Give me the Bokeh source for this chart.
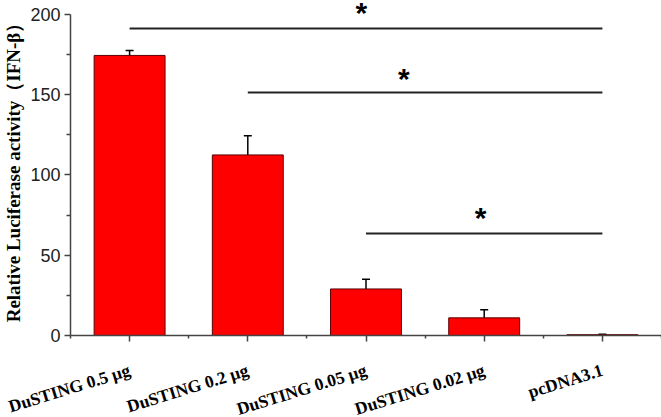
from bokeh.plotting import figure
from bokeh.models import (ColumnDataSource, FixedTicker, Whisker, Range1d)
from bokeh.core.properties import value
from bokeh.embed import file_html
from bokeh.resources import INLINE

categories = ["DuSTING 0.5 μg", "DuSTING 0.2 μg", "DuSTING 0.05 μg", "DuSTING 0.02 μg", "pcDNA3.1"]
values = [174.5, 112.5, 29.0, 11.0, 0.5]
errors = [3.0, 12.0, 6.0, 5.0, 0.3]

sig_start = [1, 2, 3]
sig_end = [5, 5, 5]
sig_y = [191.3, 151.4, 63.6]
star_x = [2.96, 3.32, 3.97]
star_y = [201.0, 160.4, 73.8]

xs = list(range(1, len(categories) + 1))

p = figure(frame_width=591, frame_height=335, output_backend="svg", toolbar_location=None,
           x_range=Range1d(0.5, 5.5), y_range=Range1d(0, 208.72),
           min_border_left=60, min_border_top=0, min_border_bottom=60, min_border_right=0)
p.outline_line_color = None
p.grid.visible = False
p.background_fill_color = "white"
p.border_fill_color = "white"

src = ColumnDataSource(dict(x=xs, top=values,
                            upper=[v + e for v, e in zip(values, errors)],
                            lower=[v - e for v, e in zip(values, errors)]))
p.vbar(x="x", top="top", width=0.6, bottom=0, source=src,
       fill_color="#ff0000", line_color="#5a0000", line_width=1)

w = Whisker(base="x", upper="upper", lower="lower", source=src,
            line_color="black", line_width=1.5)
w.upper_head.size = 8
w.lower_head.size = 8
w.upper_head.line_width = 1.5
w.lower_head.line_width = 1.5
p.add_layout(w)

p.segment(x0=sig_start, x1=sig_end, y0=sig_y, y1=sig_y, line_color="#222222", line_width=2)

p.text(x=star_x, y=star_y, text=["*"] * len(star_x), text_font=value("Liberation Sans"),
       text_font_style="bold", text_font_size="30px",
       text_align="center", text_baseline="middle", text_color="black")

# x axis
xa = p.xaxis[0]
xa.ticker = FixedTicker(ticks=xs, minor_ticks=[0.5, 1.5, 2.5, 3.5, 4.5, 5.5])
xa.major_label_overrides = {i: c for i, c in zip(xs, categories)}
xa.major_label_orientation = 0.3
xa.major_label_text_font = "Liberation Serif"
xa.major_label_text_font_style = "bold"
xa.major_label_text_font_size = "17.5px"
xa.major_label_text_color = "black"
xa.major_label_standoff = 28
xa.axis_line_color = "#444444"
xa.axis_line_width = 1.5
xa.major_tick_line_color = "#444444"
xa.minor_tick_line_color = "#444444"
xa.major_tick_out = 6
xa.major_tick_in = 0
xa.minor_tick_out = 3
xa.minor_tick_in = 0
xa.major_tick_line_width = 1.5
xa.minor_tick_line_width = 1.5

# y axis
ya = p.yaxis[0]
ya.bounds = (0, 200)
ya.ticker = FixedTicker(ticks=[0, 50, 100, 150, 200], minor_ticks=[25, 75, 125, 175])
ya.axis_label = "Relative Luciferase activity（IFN-β）"
ya.axis_label_text_font = "Liberation Serif"
ya.axis_label_text_font_style = "bold"
ya.axis_label_text_font_size = "19px"
ya.axis_label_text_color = "black"
ya.axis_label_standoff = 3
ya.major_label_text_font = "Liberation Sans"
ya.major_label_text_font_size = "18px"
ya.major_label_text_color = "#222222"
ya.major_label_standoff = 4
ya.axis_line_color = "#444444"
ya.axis_line_width = 1.5
ya.major_tick_line_color = "#444444"
ya.minor_tick_line_color = "#444444"
ya.major_tick_out = 6
ya.major_tick_in = 0
ya.minor_tick_out = 4
ya.minor_tick_in = 0
ya.major_tick_line_width = 1.5
ya.minor_tick_line_width = 1.5

open("out.html", "w").write(file_html(p, INLINE))
